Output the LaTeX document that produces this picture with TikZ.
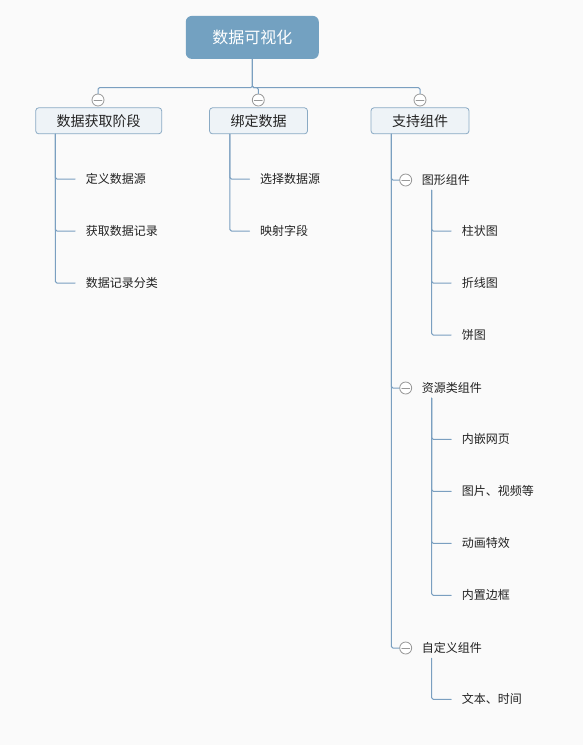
\documentclass[tikz,border=0pt]{standalone}
\usepackage{fontspec}
\setmainfont{Noto Sans CJK SC}
\definecolor{bgc}{HTML}{FAFAFA}
\definecolor{linkc}{HTML}{7A9FC0}
\definecolor{rootc}{HTML}{73A1C1}
\definecolor{boxc}{HTML}{8AAAC4}
\definecolor{boxf}{HTML}{EEF3F7}
\definecolor{togc}{HTML}{999999}
\definecolor{txtc}{HTML}{222222}

\begin{document}
\begin{tikzpicture}[x=1pt,y=-1pt,line cap=round,line join=round,
    link/.style={draw=linkc,line width=1pt,rounded corners=1.5pt},
    root/.style={fill=rootc,rounded corners=6pt,text=white,font=\fontsize{16}{18}\selectfont,minimum width=133pt,minimum height=43pt,inner sep=0pt},
    topic/.style={draw=boxc,fill=boxf,rounded corners=3pt,line width=0.8pt,font=\fontsize{14}{16}\selectfont,text=txtc,minimum height=26pt,inner sep=0pt},
    toggle/.style={circle,draw=togc,fill=white,line width=0.8pt,minimum size=12pt,inner sep=0pt,
        path picture={\draw[togc,line width=0.8pt] ([xshift=-4pt]path picture bounding box.center) -- ([xshift=4pt]path picture bounding box.center);}},
    sub/.style={anchor=west,font=\fontsize{12}{14}\selectfont,text=txtc,inner xsep=0pt,inner ysep=4.5pt},
    leaf/.style={anchor=west,font=\fontsize{12}{14}\selectfont,text=txtc,inner xsep=10.5pt,inner ysep=2pt}]
        \fill [bgc] (0,0) rectangle (583,745);
        % root and first level
        \node [root] (root) at (252.3,37.4) {数据可视化};
        \node [topic,minimum width=126pt] (b1) at (98.7,120.8) {数据获取阶段};
        \node [topic,minimum width=98pt] (b2) at (258.5,120.8) {绑定数据};
        \node [topic,minimum width=98pt] (b3) at (420,120.8) {支持组件};
        \node [toggle] (t1) at (98,100) {};
        \node [toggle] (t2) at (258.3,100) {};
        \node [toggle] (t3) at (420,100) {};
        \draw [link] (root.south) -- ++(0,28.6) -| (t1.north);
        \draw [link] (root.south) -- ++(0,28.6) -| (t2.north);
        \draw [link] (root.south) -- ++(0,28.6) -| (t3.north);
        % leaves of the first two topics
        \foreach \t [count=\i] in {定义数据源,获取数据记录,数据记录分类} {
            \node [leaf] (a\i) at (75.2,127+52*\i) {\t};
            \draw [link] ([xshift=20pt]b1.south west) |- (a\i.west);
        }
        \foreach \t [count=\i] in {选择数据源,映射字段} {
            \node [leaf] (m\i) at (249.5,127+52*\i) {\t};
            \draw [link] ([xshift=20.7pt]b2.south west) |- (m\i.west);
        }
        % groups of the third topic
        \foreach \t/\y [count=\i] in {图形组件/180,资源类组件/388,自定义组件/648} {
            \node [toggle] (s\i) at (405.7,\y) {};
            \node [sub] (g\i) at (421.7,\y) {\t};
            \draw [link] ([xshift=20.7pt]b3.south west) |- (s\i.west);
        }
        \foreach \t [count=\i] in {柱状图,折线图,饼图} {
            \node [leaf] (c\i) at (451.2,179+52*\i) {\t};
            \draw [link] ([xshift=10pt]g1.south west) |- (c\i.west);
        }
        \foreach \t [count=\i] in {内嵌网页,图片、视频等,动画特效,内置边框} {
            \node [leaf] (d\i) at (451.2,387.3+52*\i) {\t};
            \draw [link] ([xshift=10pt]g2.south west) |- (d\i.west);
        }
        \node [leaf] (e1) at (451.2,699.3) {文本、时间};
        \draw [link] ([xshift=10pt]g3.south west) |- (e1.west);
    \end{tikzpicture}
\end{document}
